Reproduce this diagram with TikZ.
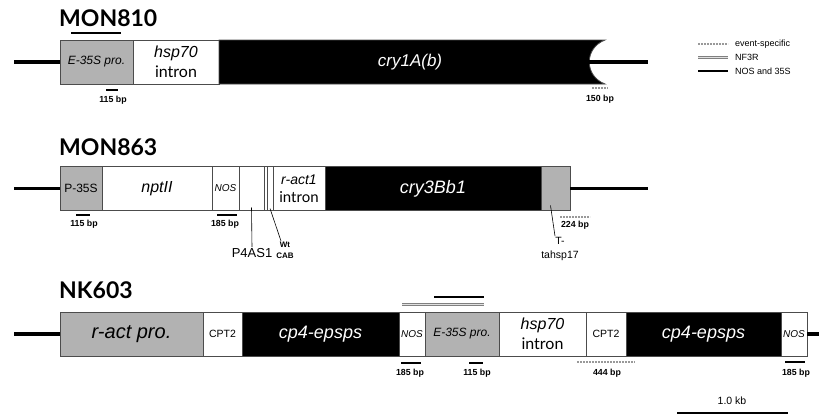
\documentclass[tikz,border=0pt]{standalone}
\usepackage{fontspec}
\setmainfont{Liberation Sans}
\newfontfamily\titlefont{Lato}
\usetikzlibrary{positioning}

\begin{document}
\begin{tikzpicture}[
        x=1pt, y=-1pt,
        node distance=0pt,
        seg/.style={draw=black!70, line width=0.8pt, minimum height=44pt, inner sep=0pt, outer sep=0pt, align=center},
        grayseg/.style={seg, fill=black!30},
        whiteseg/.style={seg, fill=white},
        blackseg/.style={seg, fill=black, text=white},
        backbone/.style={line width=3.6pt},
        nosbar/.style={line width=1.6pt},
        nfbar/.style={draw=black!50, double=black!12, double distance=1pt, line width=1pt},
        evbar/.style={black!40, line width=1.6pt, dash pattern=on 2pt off 1pt},
        bp/.style={font=\bfseries\fontsize{8.8}{9}\selectfont, inner sep=0pt},
        title/.style={font=\titlefont\bfseries\fontsize{23}{24}\selectfont, anchor=base west, inner sep=0pt},
        ptr/.style={line width=0.6pt},
        legend/.style={font=\fontsize{9}{10}\selectfont, anchor=west, inner sep=0pt}
    ]
    \useasboundingbox (0,0) rectangle (819,415);

    % legend
    \coordinate (lgA1) at (698,44); \coordinate (lgA2) at (728,44);
    \coordinate (lgB1) at (698,57); \coordinate (lgB2) at (728,57);
    \coordinate (lgC1) at (698,71); \coordinate (lgC2) at (728,71);
    \draw[evbar] (lgA1) -- (lgA2);
    \draw[nfbar] (lgB1) -- (lgB2);
    \draw[nosbar] (lgC1) -- (lgC2);
    \node[legend] (lgevent) at (735,44) {event-specific};
    \node[legend] (lgnf) at (735,57) {NF3R};
    \node[legend] (lgnos) at (735,71) {NOS and 35S};

    % MON810
    \node[title] (mon810) at (59,26) {MON810};
    \draw[nosbar] (71,33) -- (121,33);
    \coordinate (startA) at (14,62);
    \node[grayseg, minimum width=73pt, anchor=west, font=\itshape\fontsize{12}{13}\selectfont] (e35sA) at (60,62) {E-35S pro.};
    \node[whiteseg, minimum width=86pt, right=of e35sA, font=\fontsize{16}{20}\selectfont] (hspA) {\itshape hsp70\\\titlefont intron};
    \draw[draw=black!70, line width=0.8pt, fill=black] (hspA.north east) -- (605,40) .. controls (584,48) and (584,76) .. (605,84) -- (hspA.south east) -- cycle;
    \node[text=white, font=\itshape\fontsize{17}{18}\selectfont] (cryA) at (410,62) {cry1A(b)};
    \coordinate (notchA) at (588,62);
    \coordinate (endA) at (648,62);
    \draw[backbone] (startA) -- (e35sA.west);
    \draw[backbone] (notchA) -- (endA);
    \draw[nosbar] (106,90) -- (118,90);
    \node[bp] (bpA1) at (113,100) {115 bp};
    \draw[evbar] (592,88) -- (608,88);
    \node[bp] (bpA2) at (600,99) {150 bp};

    % MON863
    \node[title] (mon863) at (59,155) {MON863};
    \coordinate (startB) at (14,188.5);
    \node[grayseg, minimum width=42pt, anchor=west, font=\fontsize{12}{13}\selectfont] (p35s) at (60,188.5) {P-35S};
    \node[whiteseg, minimum width=110pt, right=of p35s, font=\itshape\fontsize{16}{17}\selectfont] (nptii) {nptII};
    \node[whiteseg, minimum width=27pt, right=of nptii, font=\itshape\fontsize{10}{11}\selectfont] (nosB) {NOS};
    \node[whiteseg, minimum width=25pt, right=of nosB] (p4as) {};
    \node[whiteseg, minimum width=3pt, right=of p4as] (gapB) {};
    \node[whiteseg, minimum width=6pt, right=of gapB] (wtcab) {};
    \node[whiteseg, minimum width=52pt, right=of wtcab, font=\fontsize{15}{18}\selectfont] (ract1) {{\itshape\fontsize{14}{16}\selectfont r-act1}\\\titlefont intron};
    \node[blackseg, minimum width=216pt, right=of ract1, font=\itshape\fontsize{18}{19}\selectfont] (cry3) {cry3Bb1};
    \node[grayseg, minimum width=29pt, right=of cry3] (tbox) {};
    \coordinate (endB) at (648,188.5);
    \draw[backbone] (startB) -- (p35s.west);
    \draw[backbone] (tbox.east) -- (endB);
    \draw[nosbar] (76,215) -- (90,215);
    \node[bp] (bpB1) at (84,224) {115 bp};
    \draw[nosbar] (217,215) -- (237,215);
    \node[bp] (bpB2) at (225,224) {185 bp};
    \draw[evbar] (560,217) -- (590,217);
    \node[bp] (bpB3) at (575,225.5) {224 bp};
    \node[font=\fontsize{13}{14}\selectfont, inner sep=1pt] (p4lbl) at (252,253) {P4AS1};
    \node[font=\bfseries\fontsize{8}{11}\selectfont, align=center, inner sep=1pt] (wtlbl) at (285,250.5) {Wt\\CAB};
    \node[font=\fontsize{10.5}{14}\selectfont, align=center, inner sep=1pt] (tlbl) at (560,249) {T-\\tahsp17};
    \draw[ptr] ([yshift=3pt]p4as.south) -- (p4lbl.north);
    \draw[ptr] ([yshift=2pt]wtcab.south) -- ([xshift=-4pt]wtlbl.north);
    \draw[ptr] ([xshift=-5pt,yshift=5pt]tbox.south) -- ([xshift=-5pt]tlbl.north);

    % NK603
    \node[title] (nk603) at (59,298) {NK603};
    \coordinate (startC) at (14,334);
    \node[grayseg, minimum width=143pt, anchor=west, font=\itshape\fontsize{20}{21}\selectfont] (ractpro) at (60,334) {r-act pro.};
    \node[whiteseg, minimum width=39pt, right=of ractpro, font=\fontsize{10.5}{11}\selectfont] (cpt2a) {CPT2};
    \node[blackseg, minimum width=157pt, right=of cpt2a, font=\itshape\fontsize{18}{19}\selectfont] (cp4a) {cp4-epsps};
    \node[whiteseg, minimum width=26pt, right=of cp4a, font=\itshape\fontsize{10}{11}\selectfont] (nosC1) {NOS};
    \node[grayseg, minimum width=74pt, right=of nosC1, font=\itshape\fontsize{12}{13}\selectfont] (e35sC) {E-35S pro.};
    \node[whiteseg, minimum width=87pt, right=of e35sC, font=\fontsize{16}{20}\selectfont] (hspC) {\itshape hsp70\\\titlefont intron};
    \node[whiteseg, minimum width=40pt, right=of hspC, font=\fontsize{10.5}{11}\selectfont] (cpt2b) {CPT2};
    \node[blackseg, minimum width=155pt, right=of cpt2b, font=\itshape\fontsize{18}{19}\selectfont] (cp4b) {cp4-epsps};
    \node[whiteseg, minimum width=26pt, right=of cp4b, font=\itshape\fontsize{10}{11}\selectfont] (nosC2) {NOS};
    \coordinate (endC) at (819,334);
    \draw[backbone] (startC) -- (ractpro.west);
    \draw[backbone] (nosC2.east) -- (endC);
    \draw[nfbar] (402,304) -- (484,304);
    \draw[nosbar] (434,297) -- (484,297);
    \draw[nosbar] (401,363) -- (421,363);
    \node[bp] (bpC1) at (410,373) {185 bp};
    \draw[nosbar] (469,363) -- (483,363);
    \node[bp] (bpC2) at (477,373) {115 bp};
    \draw[evbar] (577,362) -- (635,362);
    \node[bp] (bpC3) at (607,373) {444 bp};
    \draw[nosbar] (785,362) -- (805,362);
    \node[bp] (bpC4) at (796,373) {185 bp};

    % scale
    \coordinate (kbA) at (677,413);
    \coordinate (kbB) at (788,413);
    \draw[nosbar] (kbA) -- (kbB);
    \node[font=\fontsize{10.5}{11}\selectfont, inner sep=0pt] (kblbl) at (732,401) {1.0 kb};
\end{tikzpicture}
\end{document}
